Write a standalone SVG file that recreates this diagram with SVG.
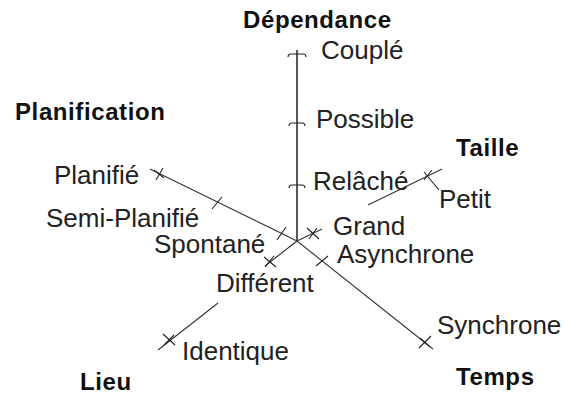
<svg xmlns="http://www.w3.org/2000/svg" width="564" height="396" viewBox="0 0 564 396">
  <style>
    .title { font-family: "Liberation Sans", Arial, sans-serif; font-weight: bold; font-size: 24px; letter-spacing: 0.6px; fill: #111; }
    .lbl { font-family: "Liberation Sans", Arial, sans-serif; font-size: 26px; fill: #222; }
    .ax { stroke: #333; stroke-width: 1.1; fill: none; }
    .axv { stroke: #111; stroke-width: 1.4; fill: none; }
    .tk { stroke: #222; stroke-width: 1.1; fill: none; }
  </style>
  <rect width="564" height="396" fill="#fff"/>
  <g id="connectors">
    <line class="axv" x1="297" y1="50" x2="297" y2="241"/>
    <line class="ax" x1="150" y1="169" x2="297" y2="241"/>
    <line class="ax" x1="297" y1="241" x2="433" y2="349"/>
    <line class="ax" x1="297" y1="241" x2="322" y2="229"/>
    <line class="ax" x1="368" y1="205" x2="442" y2="169"/>
    <line class="ax" x1="297" y1="241" x2="265" y2="266"/>
    <line class="ax" x1="218" y1="303" x2="158" y2="350"/>
  </g>
  <g id="dependance">
    <text class="title" x="243" y="28">Dépendance</text>
    <path class="tk" d="M288,57 q0,-3 3,-3 h12 q3,0 3,3"/>
    <text class="lbl" x="321" y="59">Couplé</text>
    <path class="tk" d="M289,126 q0,-3 3,-3 h10 q3,0 3,3"/>
    <text class="lbl" x="316" y="128">Possible</text>
    <path class="tk" d="M289,188 q0,-3 3,-3 h10 q3,0 3,3"/>
    <text class="lbl" x="313" y="190">Relâché</text>
  </g>
  <g id="planification">
    <text class="title" x="15" y="120">Planification</text>
    <path class="tk" d="M154,170 L164,178 M156,180 L163,168"/>
    <text class="lbl" x="54" y="184">Planifié</text>
    <path class="tk" d="M212,209 L222,197"/>
    <text class="lbl" x="46" y="227">Semi-Planifié</text>
    <path class="tk" d="M277,240 L286,227"/>
    <text class="lbl" x="154" y="253">Spontané</text>
  </g>
  <g id="taille">
    <text class="title" x="456" y="156">Taille</text>
    <path class="tk" d="M307,228 L319,239 M309,239 L317,228"/>
    <text class="lbl" x="333" y="235">Grand</text>
    <path class="tk" d="M424,172 L439,190 M424,180 L432,170"/>
    <text class="lbl" x="439" y="208">Petit</text>
  </g>
  <g id="temps">
    <text class="title" x="456" y="385">Temps</text>
    <path class="tk" d="M316,266 L328,256"/>
    <text class="lbl" x="337" y="263">Asynchrone</text>
    <path class="tk" d="M419,348 L431,336 M420,338 L429,346"/>
    <text class="lbl" x="437" y="334">Synchrone</text>
  </g>
  <g id="lieu">
    <text class="title" x="80" y="390">Lieu</text>
    <path class="tk" d="M264,257 L276,267 M265,267 L274,256"/>
    <text class="lbl" x="216" y="292">Différent</text>
    <path class="tk" d="M163,334 L175,345 M164,345 L174,335"/>
    <text class="lbl" x="182" y="360">Identique</text>
  </g>
</svg>
